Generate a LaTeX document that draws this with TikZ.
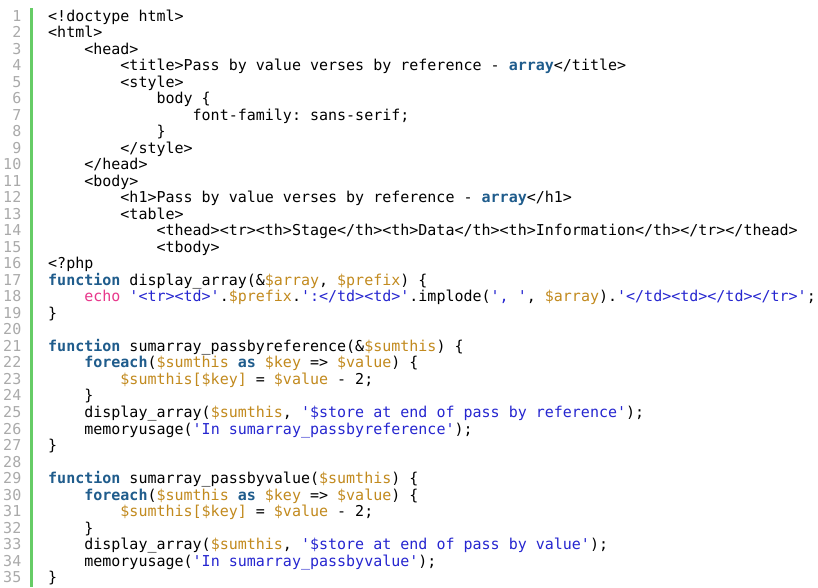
\documentclass[tikz,border=0pt]{standalone}
\usepackage{fontspec}
\setmonofont{DejaVu Sans Mono}
\definecolor{kwblue}{HTML}{1F5C8C}
\definecolor{varorange}{HTML}{C28A1E}
\definecolor{strblue}{HTML}{2626D0}
\definecolor{echopink}{HTML}{E8388C}
\definecolor{lngray}{HTML}{AAAAAA}
\definecolor{bargreen}{HTML}{66CC66}
\newcommand\kw[1]{\textcolor{kwblue}{\bfseries #1}}
\newcommand\vr[1]{\textcolor{varorange}{#1}}
\newcommand\st[1]{\textcolor{strblue}{#1}}
\newcommand\ec[1]{\textcolor{echopink}{#1}}
\tikzset{
  codetext/.style={anchor=base west, inner sep=0pt, font=\ttfamily\fontsize{15pt}{16.5pt}\selectfont, text=black},
  numtext/.style={anchor=base east, inner sep=0pt, font=\ttfamily\fontsize{15pt}{16.5pt}\selectfont, text=lngray},
}
\newcommand\codeln[3]{%
  \node[codetext] (L#1) at ({48pt+#2*9.03pt}, {-21pt-(#1-1)*16.52pt}) {#3};
  \node[numtext] (N#1) at (21.5pt, {-21pt-(#1-1)*16.52pt}) {#1};
}
\begin{document}
\begin{tikzpicture}[x=1pt,y=1pt]
\fill[white] (0,0) rectangle (818,-587);
\useasboundingbox (0,0) rectangle (818,-587);
\fill[bargreen] (30,-8) rectangle (33,-587);
\codeln{1}{0}{<!doctype html>}
\codeln{2}{0}{<html>}
\codeln{3}{4}{<head>}
\codeln{4}{8}{<title>Pass by value verses by reference - \kw{array}</title>}
\codeln{5}{8}{<style>}
\codeln{6}{12}{body \{}
\codeln{7}{16}{font-family: sans-serif;}
\codeln{8}{12}{\}}
\codeln{9}{8}{</style>}
\codeln{10}{4}{</head>}
\codeln{11}{4}{<body>}
\codeln{12}{8}{<h1>Pass by value verses by reference - \kw{array}</h1>}
\codeln{13}{8}{<table>}
\codeln{14}{12}{<thead><tr><th>Stage</th><th>Data</th><th>Information</th></tr></thead>}
\codeln{15}{12}{<tbody>}
\codeln{16}{0}{<?php}
\codeln{17}{0}{\kw{function} display\_array(\&\vr{\$array}, \vr{\$prefix}) \{}
\codeln{18}{4}{\ec{echo} \st{'<tr><td>'}.\vr{\$prefix}.\st{':</td><td>'}.implode(\st{', '}, \vr{\$array}).\st{'</td><td></td></tr>'};}
\codeln{19}{0}{\}}
\codeln{20}{0}{}
\codeln{21}{0}{\kw{function} sumarray\_passbyreference(\&\vr{\$sumthis}) \{}
\codeln{22}{4}{\kw{foreach}(\vr{\$sumthis} \kw{as} \vr{\$key} => \vr{\$value}) \{}
\codeln{23}{8}{\vr{\$sumthis[\$key]} = \vr{\$value} - 2;}
\codeln{24}{4}{\}}
\codeln{25}{4}{display\_array(\vr{\$sumthis}, \st{'\$store at end of pass by reference'});}
\codeln{26}{4}{memoryusage(\st{'In sumarray\_passbyreference'});}
\codeln{27}{0}{\}}
\codeln{28}{0}{}
\codeln{29}{0}{\kw{function} sumarray\_passbyvalue(\vr{\$sumthis}) \{}
\codeln{30}{4}{\kw{foreach}(\vr{\$sumthis} \kw{as} \vr{\$key} => \vr{\$value}) \{}
\codeln{31}{8}{\vr{\$sumthis[\$key]} = \vr{\$value} - 2;}
\codeln{32}{4}{\}}
\codeln{33}{4}{display\_array(\vr{\$sumthis}, \st{'\$store at end of pass by value'});}
\codeln{34}{4}{memoryusage(\st{'In sumarray\_passbyvalue'});}
\codeln{35}{0}{\}}
\end{tikzpicture}
\end{document}
